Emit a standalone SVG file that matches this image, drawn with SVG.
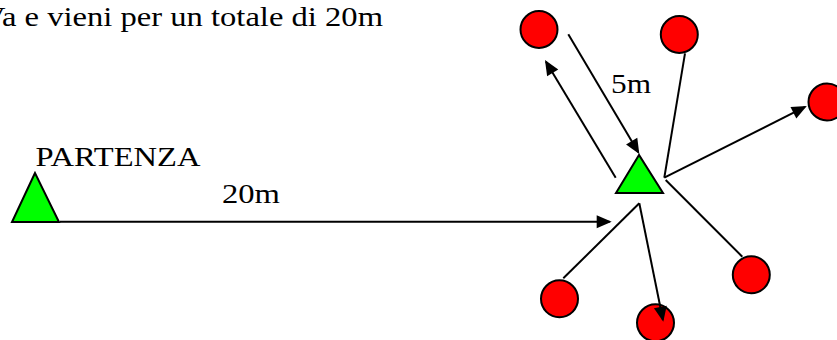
<svg xmlns="http://www.w3.org/2000/svg" width="837" height="340" viewBox="0 0 837 340">
<style>
.tri{fill:#00ff00;stroke:#000;stroke-width:2;stroke-linejoin:miter}
.dot{fill:#ff0000;stroke:#000;stroke-width:2}
.ln{stroke:#000;stroke-width:2;fill:none}
.ar{marker-end:url(#ah)}
</style>
<defs>
<marker id="ah" markerUnits="userSpaceOnUse" markerWidth="15" markerHeight="13" refX="13" refY="6.5" orient="auto" overflow="visible">
<path d="M0,0 L15,6.5 L0,13 Z" fill="#000"/>
</marker>
</defs>
<rect width="837" height="340" fill="#fff"/>
<g font-family="'Liberation Serif', 'Times New Roman', serif" font-size="28" fill="#000">
<text x="-18" y="26" textLength="401" lengthAdjust="spacingAndGlyphs">Va e vieni per un totale di 20m</text>
</g>
<g id="start">
<polygon class="tri" points="35,173 12,222 59,222"/>
<text x="35.5" y="166" textLength="165" lengthAdjust="spacingAndGlyphs" font-family="'Liberation Serif', 'Times New Roman', serif" font-size="28" fill="#000">PARTENZA</text>
</g>
<g id="center">
<polygon class="tri" points="639,155 616,193 663,193"/>
</g>
<g id="c1"><circle class="dot" cx="539" cy="29.5" r="18.5"/></g>
<g id="c2"><circle class="dot" cx="679.3" cy="34.5" r="18.5"/></g>
<g id="c3"><circle class="dot" cx="827" cy="102" r="18.5"/></g>
<g id="c4"><circle class="dot" cx="751.3" cy="274.8" r="18.5"/></g>
<g id="c5"><circle class="dot" cx="559.5" cy="298.8" r="18.5"/></g>
<g id="c6"><circle class="dot" cx="655.5" cy="322.8" r="18.5"/></g>
<g id="connectors">
<line class="ln ar" x1="60" y1="221.7" x2="609.7" y2="221.7"/>
<line class="ln ar" x1="568.3" y1="34.3" x2="638.3" y2="152.3"/>
<line class="ln ar" x1="615.7" y1="177.7" x2="546" y2="61.7"/>
<line class="ln" x1="685" y1="53.3" x2="664.3" y2="177.7"/>
<line class="ln ar" x1="664.3" y1="177.7" x2="805" y2="106.9"/>
<line class="ln" x1="665.7" y1="180" x2="742.3" y2="256.7"/>
<line class="ln" x1="639.3" y1="203.3" x2="563.3" y2="278.3"/>
<line class="ln ar" x1="639.3" y1="203.3" x2="662.9" y2="319.7"/>
</g>
<g id="labels" font-family="'Liberation Serif', 'Times New Roman', serif" font-size="28" fill="#000">
<text x="222" y="203" textLength="58" lengthAdjust="spacingAndGlyphs">20m</text>
<text x="611" y="93" textLength="40" lengthAdjust="spacingAndGlyphs">5m</text>
</g>
</svg>
